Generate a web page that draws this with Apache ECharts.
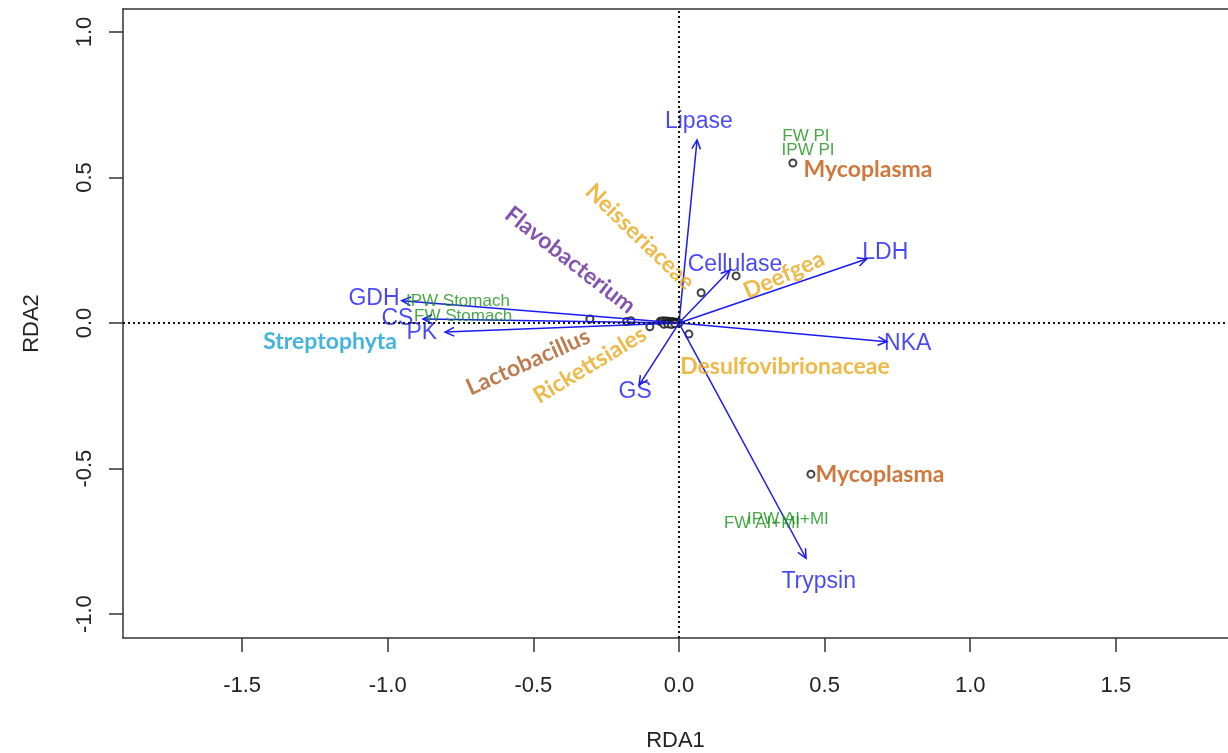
<!DOCTYPE html>
<html><head><meta charset="utf-8">
<script src="https://cdn.jsdelivr.net/npm/echarts@6/dist/echarts.min.js"></script>
<style>html,body{margin:0;padding:0;background:#fff}#c{width:1228px;height:753px}</style>
</head><body><div id="c"></div><script>
// Environmental arrows (biplot scores)
const envNames = ['Lipase','Cellulase','LDH','NKA','Trypsin','GS','GDH','CS','PK'];
const envX = [0.062, 0.175, 0.644, 0.714, 0.436, -0.137, -0.952, -0.879, -0.803];
const envY = [0.629, 0.182, 0.220, -0.064, -0.808, -0.213, 0.077, 0.014, -0.031];
// Site labels
const siteNames = ['FW PI','IPW PI','IPW Stomach','FW Stomach','IPW AI+MI','FW AI+MI'];
const siteX = [0.436, 0.443, -0.759, -0.741, 0.374, 0.285];
const siteY = [0.643, 0.595, 0.076, 0.024, -0.674, -0.687];
// Species points
const speciesX = [0.391, 0.453, 0.196, 0.076, 0.034, -0.100, -0.306, -0.180, -0.165,
  -0.065, -0.060, -0.055, -0.050, -0.045, -0.040, -0.036, -0.032, -0.028, -0.024, -0.020,
  -0.016, -0.012, -0.008, -0.004, 0.000, -0.052, -0.038, -0.026, -0.014];
const speciesY = [0.550, -0.519, 0.162, 0.104, -0.038, -0.013, 0.014, 0.005, 0.008,
  0.006, 0.004, 0.008, 0.003, 0.007, 0.002, 0.006, 0.004, 0.001, 0.005, 0.002,
  0.004, 0.000, 0.003, 0.001, 0.000, -0.004, -0.003, -0.005, -0.002];
// Taxa annotations
const taxaNames = ['Mycoplasma','Mycoplasma','Neisseriaceae','Flavobacterium','Deefgea','Lactobacillus','Rickettsiales','Streptophyta','Desulfovibrionaceae'];
const taxaX = [0.649, 0.690, -0.134, -0.374, 0.360, -0.518, -0.306, -1.198, 0.364];
const taxaY = [0.526, -0.522, 0.296, 0.216, 0.165, -0.134, -0.144, -0.065, -0.148];
// Ticks
const xTicks = [-1.5, -1.0, -0.5, 0.0, 0.5, 1.0, 1.5];
const yTicks = [-1.0, -0.5, 0.0, 0.5, 1.0];

const taxaStyle = {
  'Mycoplasma': {color:'#c2560e', rotate:0},
  'Neisseriaceae': {color:'#e8a81c', rotate:-44},
  'Flavobacterium': {color:'#64289a', rotate:-38},
  'Deefgea': {color:'#e8a81c', rotate:24},
  'Lactobacillus': {color:'#ad5a24', rotate:24},
  'Rickettsiales': {color:'#e8a81c', rotate:31},
  'Streptophyta': {color:'#17a0d4', rotate:0},
  'Desulfovibrionaceae': {color:'#e8a81c', rotate:0}
};
const LABEL_SCALE = 1.1;
const BLUE = '#1a1af2';
const GREEN = '#1a921a';
const tickFont = '"Liberation Sans", Arial, sans-serif';

const chart = echarts.init(document.getElementById('c'), null, {renderer:'canvas'});
const fmt = v => v.toFixed(1);

const option = {
  animation: false,
  backgroundColor: '#ffffff',
  grid: {left:123, right:0, top:9, bottom:115, containLabel:false, outerBoundsMode:'none'},
  xAxis: [{
    type:'value', min:-1.909, max:1.885, position:'bottom',
    name:'RDA1', nameLocation:'middle', nameGap:92,
    nameTextStyle:{fontFamily:tickFont, fontSize:22, color:'#222'},
    axisLine:{show:true, onZero:false, lineStyle:{color:'#333', width:1.5}},
    axisTick:{show:true, length:14, lineStyle:{color:'#333', width:1.5}, customValues:xTicks},
    axisLabel:{show:true, margin:37, fontFamily:tickFont, fontSize:22, color:'#222', formatter:fmt, customValues:xTicks},
    splitLine:{show:false}
  },{
    type:'value', min:-1.909, max:1.885, position:'top',
    axisLine:{show:true, onZero:false, lineStyle:{color:'#333', width:1.5}},
    axisTick:{show:false}, axisLabel:{show:false}, splitLine:{show:false}
  }],
  yAxis: [{
    type:'value', min:-1.082, max:1.079, position:'left',
    name:'RDA2', nameLocation:'middle', nameGap:80, nameRotate:90,
    nameTextStyle:{fontFamily:tickFont, fontSize:22, color:'#222'},
    axisLine:{show:true, onZero:false, lineStyle:{color:'#333', width:1.5}},
    axisTick:{show:true, length:14, lineStyle:{color:'#333', width:1.5}, customValues:yTicks},
    axisLabel:{show:true, margin:27, rotate:90, fontFamily:tickFont, fontSize:22, color:'#222', formatter:fmt, customValues:yTicks},
    splitLine:{show:false}
  }],
  series: [
    {
      type:'scatter', name:'species', silent:true,
      data: speciesX.map((x,i)=>[x, speciesY[i]]),
      symbol:'emptyCircle', symbolSize:7,
      itemStyle:{color:'#111', borderColor:'#111', borderWidth:1.3},
      markLine:{
        silent:true, symbol:'none', label:{show:false},
        lineStyle:{color:'#111', type:[2,3], width:2},
        data:[{xAxis:0},{yAxis:0}]
      },
      z:2
    },
    {
      type:'custom', name:'arrows', silent:true,
      data: envX.map((x,i)=>[x, envY[i]]),
      encode:{x:0, y:1},
      renderItem(params, api){
        const p0 = api.coord([0,0]);
        const p1 = api.coord([api.value(0), api.value(1)]);
        const ang = Math.atan2(p1[1]-p0[1], p1[0]-p0[0]);
        const L = 10, a = Math.PI/7;
        const h1 = [p1[0]-L*Math.cos(ang-a), p1[1]-L*Math.sin(ang-a)];
        const h2 = [p1[0]-L*Math.cos(ang+a), p1[1]-L*Math.sin(ang+a)];
        return {type:'group', children:[
          {type:'line', shape:{x1:p0[0], y1:p0[1], x2:p1[0], y2:p1[1]}, style:{stroke:BLUE, lineWidth:1.5}},
          {type:'polyline', shape:{points:[h1,p1,h2]}, style:{stroke:BLUE, lineWidth:1.5, fill:null}}
        ]};
      },
      z:3
    },
    {
      type:'scatter', name:'envLabels', silent:true,
      data: envNames.map((n,i)=>({name:n, value:[envX[i]*LABEL_SCALE, envY[i]*LABEL_SCALE]})),
      symbolSize:1, itemStyle:{color:'rgba(0,0,0,0)'},
      label:{show:true, position:'inside', formatter:'{b}', color:'#1a1af5', fontFamily:tickFont, fontSize:23},
      z:4
    },
    {
      type:'scatter', name:'siteLabels', silent:true,
      data: siteNames.map((n,i)=>({name:n, value:[siteX[i], siteY[i]]})),
      symbolSize:1, itemStyle:{color:'rgba(0,0,0,0)'},
      label:{show:true, position:'inside', formatter:'{b}', color:GREEN, fontFamily:tickFont, fontSize:17},
      z:4
    },
    {
      type:'scatter', name:'taxaLabels', silent:true,
      data: taxaNames.map((n,i)=>({
        name:n, value:[taxaX[i], taxaY[i]],
        label:{color:taxaStyle[n].color, rotate:taxaStyle[n].rotate}
      })),
      symbolSize:1, itemStyle:{color:'rgba(0,0,0,0)'},
      label:{show:true, position:'inside', formatter:'{b}', fontFamily:'Lato, "Open Sans", sans-serif', fontWeight:'bold', fontSize:23},
      z:4
    }
  ]
};
chart.setOption(option);
</script></body></html>
